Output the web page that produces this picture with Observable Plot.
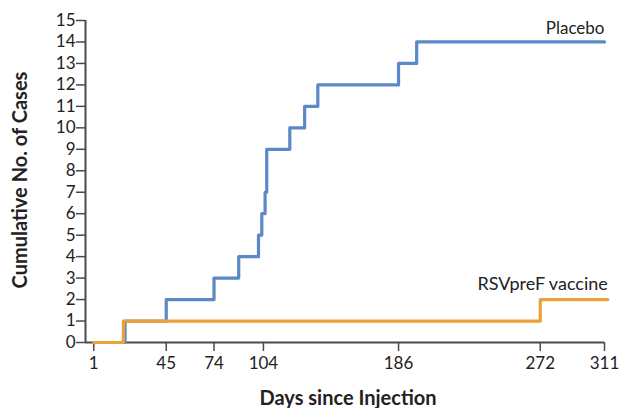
<!DOCTYPE html>
<html>
<head>
<meta charset="utf-8">
<script src="https://cdn.jsdelivr.net/npm/d3@7"></script>
<script src="https://cdn.jsdelivr.net/npm/@observablehq/plot@0.6"></script>
<style>
  html, body { margin: 0; padding: 0; background: #fff; }
  #chart svg { display: block; }
</style>
</head>
<body>
<div id="chart"></div>
<script>
// Data
const placeboDays  = [1, 20, 45, 74, 89, 101, 103, 105, 106, 120, 129, 137, 186, 197, 311];
const placeboCases = [0, 1, 2, 3, 4, 5, 6, 7, 9, 10, 11, 12, 13, 14, 14];
const vaccineDays  = [1, 19, 272, 313];
const vaccineCases = [0, 1, 2, 2];
const xTicks = [1, 45, 74, 104, 186, 272, 311];
const yTicks = d3.range(0, 16);
const seriesLabels = ["Placebo", "RSVpreF vaccine"];
const xLabel = "Days since Injection";
const yLabel = "Cumulative No. of Cases";

const placebo = placeboDays.map((d, i) => ({day: d, cases: placeboCases[i]}));
const vaccine = vaccineDays.map((d, i) => ({day: d, cases: vaccineCases[i]}));

const blue = "#5b88c7";
const orange = "#eba13a";
const axisColor = "#4a4a4a";
const font = "Lato, 'Open Sans', sans-serif";

const chart = Plot.plot({
  width: 619,
  height: 408,
  marginLeft: 85,
  marginRight: 15,
  marginTop: 20,
  marginBottom: 66,
  style: {fontFamily: font, fontSize: "17px", color: "#222", background: "#fff"},
  x: {type: "linear", domain: [-4, 311], axis: null},
  y: {type: "linear", domain: [0, 15], axis: null},
  marks: [
    // axis lines
    Plot.ruleX([{x: -4}], {x: "x", y1: () => 0, y2: () => 15, stroke: axisColor, strokeWidth: 2}),
    Plot.ruleY([{y: 0}], {y: "y", x1: () => -4, x2: () => 311, stroke: axisColor, strokeWidth: 2}),
    Plot.axisY({ticks: yTicks, tickSize: 9, anchor: "left", stroke: axisColor, strokeWidth: 1.5, tickPadding: 1, label: null, fontSize: 17, fill: "#222"}),
    Plot.axisX({ticks: xTicks, tickSize: 9, anchor: "bottom", stroke: axisColor, strokeWidth: 1.5, tickPadding: 5, tickFormat: d => String(d), label: null, fontSize: 17, fill: "#222"}),
    // series
    Plot.line(placebo, {x: "day", y: "cases", curve: "step-after", stroke: blue, strokeWidth: 3.2}),
    Plot.line(vaccine, {x: "day", y: "cases", curve: "step-after", stroke: orange, strokeWidth: 3.2}),
    // series labels
    Plot.text([{x: 311, y: 14, t: seriesLabels[0]}], {x: "x", y: "y", text: "t", textAnchor: "end", dy: -13, fontSize: 17, fill: "#222"}),
    Plot.text([{x: 313, y: 2, t: seriesLabels[1]}], {x: "x", y: "y", text: "t", textAnchor: "end", dy: -15, fontSize: 18, fill: "#222"})
  ]
});

const svg = d3.select(chart);
svg.append("text")
  .attr("x", 348).attr("y", 405)
  .attr("text-anchor", "middle")
  .attr("font-weight", "bold").attr("font-size", 20).attr("fill", "#222")
  .attr("font-family", font)
  .text(xLabel);
svg.append("text")
  .attr("transform", "translate(27,180) rotate(-90)")
  .attr("text-anchor", "middle")
  .attr("font-weight", "bold").attr("font-size", 20).attr("fill", "#222")
  .attr("font-family", font)
  .text(yLabel);

document.getElementById("chart").appendChild(chart);
</script>
</body>
</html>
